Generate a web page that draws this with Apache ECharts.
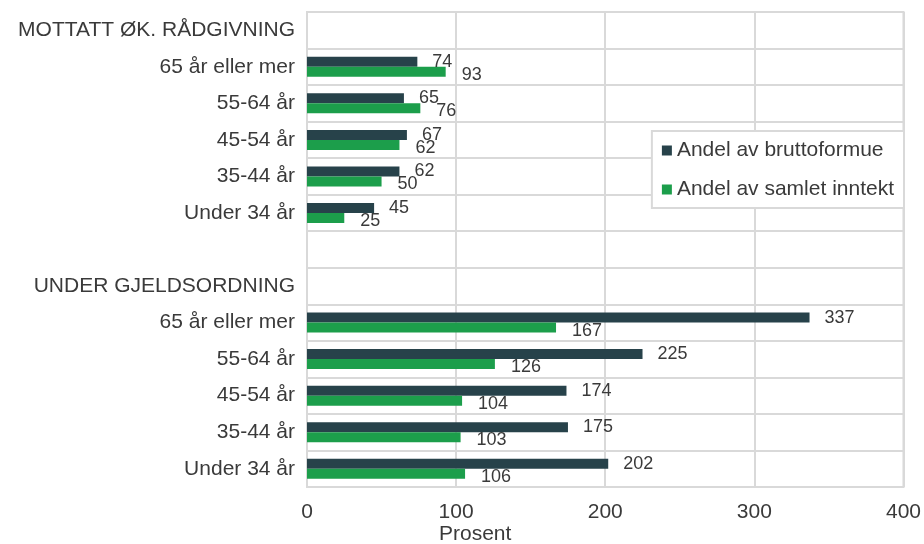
<!DOCTYPE html>
<html>
<head>
<meta charset="utf-8">
<script src="https://cdn.jsdelivr.net/npm/echarts@6/dist/echarts.min.js"></script>
<style>html,body{margin:0;padding:0;background:#fff}#c{width:924px;height:544px}</style>
</head>
<body>
<div id="c"></div>
<script>
var categories = [
  'MOTTATT ØK. RÅDGIVNING',
  '65 år eller mer', '55-64 år', '45-54 år', '35-44 år', 'Under 34 år',
  '',
  'UNDER GJELDSORDNING',
  '65 år eller mer', '55-64 år', '45-54 år', '35-44 år', 'Under 34 år'
];
var bruttoformue = [null, 74, 65, 67, 62, 45, null, null, 337, 225, 174, 175, 202];
var samletInntekt = [null, 93, 76, 62, 50, 25, null, null, 167, 126, 104, 103, 106];
var xTicks = [0, 100, 200, 300, 400];
var seriesNames = ['Andel av bruttoformue', 'Andel av samlet inntekt'];
var xTitle = 'Prosent';

var font = 'Liberation Sans, Arial, sans-serif';
var textColor = '#3a3a3a';
var gridColor = '#d9d9d9';

var chart = echarts.init(document.getElementById('c'), null, {renderer: 'canvas'});
chart.setOption({
  animation: false,
  textStyle: {fontFamily: font},
  grid: {left: 307, right: 19, top: 12, bottom: 57, show: true, borderColor: gridColor, borderWidth: 2, containLabel: false},
  legend: {
    data: seriesNames,
    orient: 'vertical',
    right: 20, top: 131,
    backgroundColor: '#fff',
    borderColor: gridColor, borderWidth: 2, borderRadius: 0,
    padding: [9, 10, 8, 10],
    itemGap: 18,
    itemWidth: 10, itemHeight: 10,
    icon: 'rect',
    textStyle: {fontSize: 21, color: textColor, fontFamily: font}
  },
  xAxis: {
    type: 'value', min: xTicks[0], max: xTicks[xTicks.length - 1], interval: 100,
    axisLine: {show: false}, axisTick: {show: false},
    axisLabel: {fontSize: 21, color: textColor, margin: 15, fontFamily: font},
    splitLine: {show: true, lineStyle: {color: gridColor, width: 2}}
  },
  yAxis: {
    type: 'category', data: categories, inverse: true,
    axisLine: {show: false}, axisTick: {show: false},
    axisLabel: {fontSize: 21, color: textColor, margin: 12, fontFamily: font},
    splitLine: {show: true, lineStyle: {color: gridColor, width: 2}}
  },
  graphic: [{
    type: 'text', left: 439, top: 524,
    style: {text: xTitle, fontSize: 21, fill: textColor, fontFamily: font}
  }],
  series: [{
    name: seriesNames[0], type: 'bar', data: bruttoformue,
    barWidth: 10, barGap: '0%',
    itemStyle: {color: '#27424a'},
    label: {show: true, position: 'right', distance: 15, fontSize: 18, color: textColor, fontFamily: font}
  }, {
    name: seriesNames[1], type: 'bar', data: samletInntekt,
    barWidth: 10, barGap: '0%',
    itemStyle: {color: '#1c9e4b'},
    label: {show: true, position: 'right', distance: 16, offset: [0, 3], fontSize: 18, color: textColor, fontFamily: font}
  }]
});
</script>
</body>
</html>
